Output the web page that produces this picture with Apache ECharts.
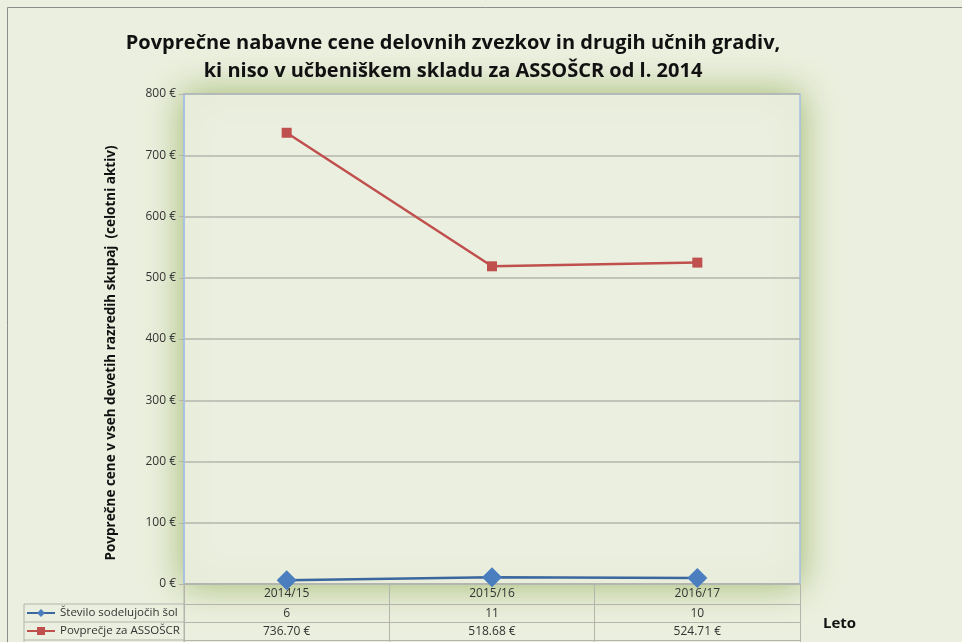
<!DOCTYPE html>
<html>
<head>
<meta charset="utf-8">
<script src="https://cdn.jsdelivr.net/npm/echarts@6/dist/echarts.min.js"></script>
<style>
  html, body { margin: 0; padding: 0; background: #ebefdf; }
  #chart { width: 962px; height: 642px; }
</style>
</head>
<body>
<div id="chart"></div>
<script>
// data
const years = ['2014/15', '2015/16', '2016/17']
const schoolCount = [6, 11, 10]
const avgPrice = [736.70, 518.68, 524.71]
const yTicks = [0, 100, 200, 300, 400, 500, 600, 700, 800]

const fmtEur = v => v.toFixed(2) + ' €'

const chart = echarts.init(document.getElementById('chart'))

const font = '"Open Sans", sans-serif'
const gridLine = '#b4b4ad'

// table axes below the plot: each one is a row
const tableAxis = (offset, labels, showLabel) => ({
    type: 'category',
    data: years,
    position: 'bottom',
    offset: offset,
    boundaryGap: true,
    axisLine: { show: true, lineStyle: { color: gridLine, width: 1 } },
    axisTick: { show: true, interval: 0, length: 18, inside: false, lineStyle: { color: gridLine } },
    axisLabel: {
        show: showLabel,
        interval: 0,
        margin: 4,
        color: '#333',
        fontSize: 12,
        fontFamily: font,
        formatter: (v, i) => labels[i]
    }
})

chart.setOption({
    backgroundColor: '#ebefdf',
    animation: false,
    title: {
        text: 'Povprečne nabavne cene delovnih zvezkov in drugih učnih gradiv,\nki niso v učbeniškem skladu za ASSOŠCR od l. 2014',
        left: 448,
        textAlign: 'center',
        top: 24,
        textStyle: { fontFamily: font, fontWeight: 'bold', fontSize: 20, lineHeight: 28, color: '#111' }
    },
    legend: {
        orient: 'vertical',
        left: 26,
        top: 607,
        padding: 0,
        itemWidth: 28,
        itemHeight: 10,
        itemGap: 6,
        textStyle: { fontFamily: font, fontSize: 11.5, color: '#333' },
        data: ['Število sodelujočih šol', 'Povprečje za ASSOŠCR']
    },
    grid: {
        left: 184,
        right: 162,
        top: 94,
        bottom: 58,
        show: true,
        backgroundColor: '#ebefe0',
        borderColor: '#a6bfe3',
        borderWidth: 1.5,
        shadowBlur: 34,
        shadowColor: 'rgba(160,185,110,1)'
    },
    xAxis: [
        {
            type: 'category',
            data: years,
            boundaryGap: true,
            axisLine: { show: true, lineStyle: { color: gridLine, width: 1.5 } },
            axisTick: { show: true, interval: 0, length: 20, lineStyle: { color: gridLine } },
            axisLabel: { interval: 0, margin: 4, color: '#333', fontSize: 12, fontFamily: font },
            name: 'Leto',
            nameLocation: 'end',
            nameGap: 0,
            nameTextStyle: {
                fontFamily: font, fontWeight: 'bold', fontSize: 15, color: '#111',
                align: 'left', verticalAlign: 'top', padding: [32, 0, 0, 23]
            }
        },
        tableAxis(20, schoolCount.map(String), true),
        tableAxis(38, avgPrice.map(fmtEur), true),
        tableAxis(56, years.map(() => ''), false)
    ],
    yAxis: {
        type: 'value',
        min: yTicks[0],
        max: yTicks[yTicks.length - 1],
        interval: 100,
        name: 'Povprečne cene v vseh devetih razredih skupaj  (celotni aktiv)',
        nameLocation: 'middle',
        nameGap: 66,
        nameTextStyle: { fontFamily: font, fontWeight: 'bold', fontSize: 13.5, color: '#111', padding: [0, 28, 0, 0] },
        axisLine: { show: true, lineStyle: { color: '#a6bfe3', width: 1.5 } },
        axisTick: { show: true, length: 5, lineStyle: { color: gridLine } },
        axisLabel: { color: '#333', fontSize: 12, fontFamily: font, margin: 8, formatter: '{value} €' },
        splitLine: { show: true, lineStyle: { color: gridLine, width: 1.5 } }
    },
    series: [
        {
            name: 'Število sodelujočih šol',
            type: 'line',
            data: schoolCount,
            symbol: 'diamond',
            symbolSize: 20,
            lineStyle: { color: '#3a679e', width: 2.5 },
            itemStyle: { color: '#4a7ebf' },
            z: 5
        },
        {
            name: 'Povprečje za ASSOŠCR',
            type: 'line',
            data: avgPrice,
            symbol: 'rect',
            symbolSize: 10,
            lineStyle: { color: '#c0504d', width: 2.5 },
            itemStyle: { color: '#c0504d' },
            z: 4
        }
    ],
    graphic: [
        // outer chart border
        { type: 'rect', shape: { x: 7.5, y: 7.5, width: 980, height: 660 }, style: { fill: null, stroke: '#8c8c8c', lineWidth: 1 }, silent: true },
        // legend cells of the data table
        { type: 'line', shape: { x1: 24, y1: 604, x2: 184, y2: 604 }, style: { stroke: gridLine, lineWidth: 1 } },
        { type: 'line', shape: { x1: 24, y1: 622, x2: 184, y2: 622 }, style: { stroke: gridLine, lineWidth: 1 } },
        { type: 'line', shape: { x1: 24, y1: 640, x2: 184, y2: 640 }, style: { stroke: gridLine, lineWidth: 1 } },
        { type: 'line', shape: { x1: 24, y1: 604, x2: 24, y2: 642 }, style: { stroke: gridLine, lineWidth: 1 } },
        { type: 'line', shape: { x1: 184, y1: 584, x2: 184, y2: 642 }, style: { stroke: gridLine, lineWidth: 1 } }
    ]
})
</script>
</body>
</html>
